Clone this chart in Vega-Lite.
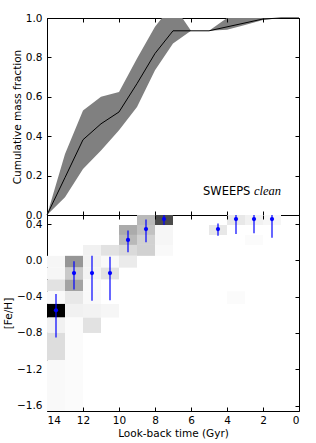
{
  "$schema": "https://vega.github.io/schema/vega-lite/v6.json",
  "padding": {"left": 3, "top": 12, "right": 10, "bottom": 5},
  "spacing": 0,
  "bounds": "flush",
  "config": {
    "font": "DejaVu Sans",
    "view": {"stroke": "black", "strokeWidth": 1},
    "axis": {
      "labelFont": "DejaVu Sans", "labelFontSize": 10.5, "labelColor": "black",
      "titleFont": "DejaVu Sans", "titleFontSize": 10.5, "titleFontWeight": "normal", "titleColor": "black",
      "tickColor": "black", "tickSize": -4, "tickWidth": 1, "domain": false, "grid": false,
      "labelPadding": 9, "titlePadding": 3
    }
  },
  "datasets": {
    "cmf": [
      {"t": 14, "v": 0}, {"t": 13, "v": 0.19}, {"t": 12, "v": 0.382}, {"t": 11, "v": 0.463},
      {"t": 10, "v": 0.523}, {"t": 9, "v": 0.667}, {"t": 8, "v": 0.82}, {"t": 7, "v": 0.935},
      {"t": 6, "v": 0.935}, {"t": 5, "v": 0.935}, {"t": 4, "v": 0.955}, {"t": 3, "v": 0.975},
      {"t": 2, "v": 0.995}, {"t": 1, "v": 1.0}, {"t": 0, "v": 1.0}
    ],
    "band": [
      {"t": 14, "lo": 0, "hi": 0}, {"t": 13, "lo": 0.09, "hi": 0.31}, {"t": 12, "lo": 0.234, "hi": 0.53},
      {"t": 11, "lo": 0.328, "hi": 0.6}, {"t": 10, "lo": 0.43, "hi": 0.625}, {"t": 9, "lo": 0.548, "hi": 0.795},
      {"t": 8, "lo": 0.735, "hi": 0.956}, {"t": 7, "lo": 0.87, "hi": 1.07}, {"t": 6, "lo": 0.935, "hi": 0.935},
      {"t": 5, "lo": 0.935, "hi": 0.935}, {"t": 4, "lo": 0.94, "hi": 1.0}, {"t": 3, "lo": 0.965, "hi": 1.0},
      {"t": 2, "lo": 0.99, "hi": 1.0}, {"t": 1, "lo": 1.0, "hi": 1.0}, {"t": 0, "lo": 1.0, "hi": 1.0}
    ],
    "cells": [
      {"t0": 13, "t1": 14, "f0": 0.05, "f1": -0.08, "w": 0.03},
      {"t0": 13, "t1": 14, "f0": -0.08, "f1": -0.21, "w": 0.03},
      {"t0": 13, "t1": 14, "f0": -0.21, "f1": -0.34, "w": 0.1},
      {"t0": 13, "t1": 14, "f0": -0.34, "f1": -0.48, "w": 0.02},
      {"t0": 13, "t1": 14, "f0": -0.48, "f1": -0.63, "w": 1.0},
      {"t0": 13, "t1": 14, "f0": -0.63, "f1": -0.8, "w": 0.05},
      {"t0": 13, "t1": 14, "f0": -0.8, "f1": -1.1, "w": 0.12},
      {"t0": 13, "t1": 14, "f0": -1.1, "f1": -1.66, "w": 0.02},
      {"t0": 12, "t1": 13, "f0": 0.05, "f1": -0.08, "w": 0.38},
      {"t0": 12, "t1": 13, "f0": -0.08, "f1": -0.21, "w": 0.19},
      {"t0": 12, "t1": 13, "f0": -0.21, "f1": -0.34, "w": 0.33},
      {"t0": 12, "t1": 13, "f0": -0.34, "f1": -0.48, "w": 0.08},
      {"t0": 12, "t1": 13, "f0": -0.48, "f1": -0.63, "w": 0.05},
      {"t0": 12, "t1": 13, "f0": -0.63, "f1": -1.66, "w": 0.015},
      {"t0": 11, "t1": 12, "f0": 0.17, "f1": 0.05, "w": 0.05},
      {"t0": 11, "t1": 12, "f0": 0.05, "f1": -0.08, "w": 0.05},
      {"t0": 11, "t1": 12, "f0": -0.08, "f1": -0.21, "w": 0.04},
      {"t0": 11, "t1": 12, "f0": -0.21, "f1": -0.34, "w": 0.02},
      {"t0": 11, "t1": 12, "f0": -0.34, "f1": -0.48, "w": 0.02},
      {"t0": 11, "t1": 12, "f0": -0.48, "f1": -0.63, "w": 0.04},
      {"t0": 11, "t1": 12, "f0": -0.63, "f1": -0.8, "w": 0.1},
      {"t0": 10, "t1": 11, "f0": 0.17, "f1": 0.05, "w": 0.1},
      {"t0": 10, "t1": 11, "f0": 0.05, "f1": -0.08, "w": 0.02},
      {"t0": 10, "t1": 11, "f0": -0.08, "f1": -0.21, "w": 0.1},
      {"t0": 10, "t1": 11, "f0": -0.48, "f1": -0.63, "w": 0.03},
      {"t0": 9, "t1": 10, "f0": 0.39, "f1": 0.28, "w": 0.3},
      {"t0": 9, "t1": 10, "f0": 0.28, "f1": 0.17, "w": 0.25},
      {"t0": 9, "t1": 10, "f0": 0.17, "f1": 0.05, "w": 0.13},
      {"t0": 9, "t1": 10, "f0": 0.05, "f1": -0.08, "w": 0.07},
      {"t0": 8, "t1": 9, "f0": 0.5, "f1": 0.39, "w": 0.25},
      {"t0": 8, "t1": 9, "f0": 0.39, "f1": 0.28, "w": 0.22},
      {"t0": 8, "t1": 9, "f0": 0.28, "f1": 0.17, "w": 0.16},
      {"t0": 8, "t1": 9, "f0": 0.17, "f1": 0.05, "w": 0.16},
      {"t0": 7, "t1": 8, "f0": 0.5, "f1": 0.39, "w": 0.68},
      {"t0": 7, "t1": 8, "f0": 0.39, "f1": 0.28, "w": 0.03},
      {"t0": 7, "t1": 8, "f0": 0.28, "f1": 0.17, "w": 0.03},
      {"t0": 7, "t1": 8, "f0": 0.17, "f1": 0.05, "w": 0.02},
      {"t0": 4, "t1": 5, "f0": 0.39, "f1": 0.28, "w": 0.08},
      {"t0": 3, "t1": 4, "f0": 0.5, "f1": 0.39, "w": 0.08},
      {"t0": 3, "t1": 4, "f0": -0.34, "f1": -0.48, "w": 0.015},
      {"t0": 2, "t1": 3, "f0": 0.5, "f1": 0.39, "w": 0.05},
      {"t0": 2, "t1": 3, "f0": 0.28, "f1": 0.17, "w": 0.015},
      {"t0": 1, "t1": 2, "f0": 0.5, "f1": 0.39, "w": 0.03}
    ],
    "pts": [
      {"t": 13.5, "fe": -0.55, "lo": -0.85, "hi": -0.37},
      {"t": 12.5, "fe": -0.14, "lo": -0.32, "hi": -0.01},
      {"t": 11.5, "fe": -0.14, "lo": -0.445, "hi": 0.05},
      {"t": 10.5, "fe": -0.14, "lo": -0.44, "hi": 0.04},
      {"t": 9.5, "fe": 0.225, "lo": 0.09, "hi": 0.33},
      {"t": 8.5, "fe": 0.345, "lo": 0.2, "hi": 0.45},
      {"t": 7.5, "fe": 0.455, "lo": 0.39, "hi": 0.5},
      {"t": 4.5, "fe": 0.345, "lo": 0.27, "hi": 0.405},
      {"t": 3.5, "fe": 0.455, "lo": 0.29, "hi": 0.5},
      {"t": 2.5, "fe": 0.455, "lo": 0.3, "hi": 0.5},
      {"t": 1.5, "fe": 0.455, "lo": 0.25, "hi": 0.5}
    ]
  },
  "vconcat": [
    {
      "width": 252, "height": 197,
      "layer": [
        {
          "data": {"name": "band"},
          "mark": {"type": "area", "color": "#808080", "clip": true},
          "encoding": {
            "x": {"field": "t", "type": "quantitative", "scale": {"domain": [0, 14], "reverse": true, "nice": false},
                  "axis": {"labels": false, "title": null, "values": [14, 12, 10, 8, 6, 4, 2, 0], "minExtent": 0, "maxExtent": 0, "labelPadding": 0, "offset": 0}},
            "y": {"field": "lo", "type": "quantitative", "scale": {"domain": [0, 1], "nice": false},
                  "axis": {"title": "Cumulative mass fraction", "values": [0, 0.2, 0.4, 0.6, 0.8, 1.0], "format": ".1f"}},
            "y2": {"field": "hi"}
          }
        },
        {
          "data": {"name": "cmf"},
          "mark": {"type": "line", "color": "black", "strokeWidth": 1},
          "encoding": {
            "x": {"field": "t", "type": "quantitative", "axis": null},
            "y": {"field": "v", "type": "quantitative", "axis": null}
          }
        },
        {
          "data": {"values": [{"t": 2.7, "v": 0.104, "label": "SWEEPS"}]},
          "mark": {"type": "text", "align": "right", "baseline": "alphabetic", "font": "DejaVu Sans", "fontSize": 11.5, "color": "black"},
          "encoding": {
            "x": {"field": "t", "type": "quantitative", "axis": null},
            "y": {"field": "v", "type": "quantitative", "axis": null},
            "text": {"field": "label"}
          }
        },
        {
          "data": {"values": [{"t": 2.5, "v": 0.104, "label": "clean"}]},
          "mark": {"type": "text", "align": "left", "baseline": "alphabetic", "font": "Liberation Serif", "fontStyle": "italic", "fontSize": 12.5, "color": "black"},
          "encoding": {
            "x": {"field": "t", "type": "quantitative", "axis": null},
            "y": {"field": "v", "type": "quantitative", "axis": null},
            "text": {"field": "label"}
          }
        },
        {
          "data": {"name": "cmf"},
          "mark": {"type": "point", "opacity": 0},
          "encoding": {
            "x": {"field": "t", "type": "quantitative",
                  "axis": {"orient": "top", "labels": false, "title": null, "values": [14, 12, 10, 8, 6, 4, 2, 0], "zindex": 1, "minExtent": 0, "maxExtent": 0, "labelPadding": 0}},
            "y": {"field": "v", "type": "quantitative",
                  "axis": {"orient": "right", "labels": false, "title": null, "values": [0, 0.2, 0.4, 0.6, 0.8, 1.0], "zindex": 1, "minExtent": 0, "maxExtent": 0, "labelPadding": 0}}
          }
        }
      ],
      "resolve": {"axis": {"x": "independent", "y": "independent"}}
    },
    {
      "width": 252, "height": 196,
      "layer": [
        {
          "data": {"name": "cells"},
          "mark": {"type": "rect"},
          "encoding": {
            "x": {"field": "t0", "type": "quantitative", "scale": {"domain": [0, 14], "reverse": true, "nice": false},
                  "axis": {"title": "Look-back time (Gyr)", "values": [14, 12, 10, 8, 6, 4, 2, 0], "format": "d", "labelPadding": 8}},
            "x2": {"field": "t1"},
            "y": {"field": "f0", "type": "quantitative", "scale": {"domain": [-1.66, 0.5], "nice": false, "zero": false},
                  "axis": {"title": "[Fe/H]", "values": [0.4, 0, -0.4, -0.8, -1.2, -1.6],
                           "labelExpr": "replace(format(datum.value, '.1f'), '-', '\u2212')"}},
            "y2": {"field": "f1"},
            "color": {"field": "w", "type": "quantitative", "legend": null,
                      "scale": {"domain": [0, 1], "range": ["#ffffff", "#000000"]}}
          }
        },
        {
          "data": {"name": "pts"},
          "mark": {"type": "rule", "color": "#0000ff", "strokeWidth": 1.2},
          "encoding": {
            "x": {"field": "t", "type": "quantitative", "axis": null},
            "y": {"field": "lo", "type": "quantitative", "axis": null},
            "y2": {"field": "hi"}
          }
        },
        {
          "data": {"name": "pts"},
          "mark": {"type": "point", "filled": true, "color": "#0000ff", "opacity": 1, "size": 18},
          "encoding": {
            "x": {"field": "t", "type": "quantitative", "axis": null},
            "y": {"field": "fe", "type": "quantitative", "axis": null}
          }
        },
        {
          "data": {"name": "pts"},
          "mark": {"type": "point", "opacity": 0},
          "encoding": {
            "x": {"field": "t", "type": "quantitative",
                  "axis": {"orient": "top", "labels": false, "title": null, "values": [14, 12, 10, 8, 6, 4, 2, 0], "zindex": 1, "minExtent": 0, "maxExtent": 0, "labelPadding": 0}},
            "y": {"field": "fe", "type": "quantitative",
                  "axis": {"orient": "right", "labels": false, "title": null, "values": [0.4, 0, -0.4, -0.8, -1.2, -1.6], "zindex": 1, "minExtent": 0, "maxExtent": 0, "labelPadding": 0}}
          }
        }
      ],
      "resolve": {"axis": {"x": "independent", "y": "independent"}}
    }
  ]
}
